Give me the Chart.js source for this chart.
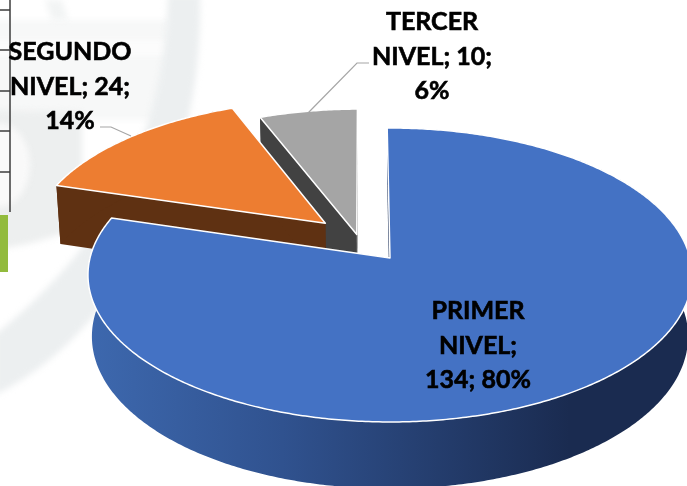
<!DOCTYPE html>
<html>
<head>
<meta charset="utf-8">
<style>html,body{margin:0;padding:0;background:#fff}#w{width:687px;height:486px;position:relative;overflow:hidden}</style>
<script src="https://cdn.jsdelivr.net/npm/chart.js@4"></script>
</head>
<body>
<div id="w"><canvas id="c" width="687" height="486"></canvas></div>
<script>
const categories = ['PRIMER NIVEL', 'SEGUNDO NIVEL', 'TERCER NIVEL'];
const values = [134, 24, 10];
const topColors = ['#4472c4', '#ed7d31', '#a5a5a5'];
const wallColors = ['#1d3158', '#5f3112', '#424242'];
const explode = [40, 34, 5];
const labelLines = [
  ['PRIMER', 'NIVEL;', '{v}; {p}%'],
  ['SEGUNDO', 'NIVEL; {v};', '{p}%'],
  ['TERCER', 'NIVEL; {v};', '{p}%']
];
const labelAnchors = [[478, 311], [70, 52], [432, 22]];
const leaders = [null, [[100,127],[111,127],[131,136]], [[369,63],[357,63],[308,113]]];
const axisTicks = [10, 50, 91, 131, 172];

// 3D view: perspective projection of the pie plane
const view = {cx: 390, cy: 258, b: 300, a: 145, p: -0.1156, q: 0.013, c: 62};
function proj(X, Y, low) {
  const w = 1 + view.p * Y + (low ? view.q : 0);
  return [view.cx + view.b * X / w, view.cy + (view.a * Y + (low ? view.c : 0)) / w];
}
function tracePts(ctx, pts) {
  pts.forEach((q, i) => i ? ctx.lineTo(q[0], q[1]) : ctx.moveTo(q[0], q[1]));
}
const pie3d = {
  id: 'pie3d',
  beforeDraw(chart) {
    const ctx = chart.ctx;
    ctx.save();
    ctx.fillStyle = '#fff'; ctx.fillRect(0, 0, 687, 486);
    // faint watermark behind the chart
    ctx.filter = 'blur(3px)';
    ctx.fillStyle = '#f7f8f8';
    ctx.fillRect(-10, 20, 180, 100);
    ctx.fillStyle = '#fcfcfc';
    ctx.fillRect(-10, 40, 180, 16);
    ctx.fillStyle = '#edefef';
    ctx.beginPath();
    ctx.moveTo(-10, 110); ctx.lineTo(82, 112); ctx.lineTo(82, 225);
    ctx.quadraticCurveTo(40, 245, -10, 250); ctx.closePath(); ctx.fill();
    ctx.fillStyle = '#f9f9f9';
    ctx.beginPath(); ctx.ellipse(0, 165, 30, 42, 0, 0, Math.PI * 2); ctx.fill();
    ctx.fillStyle = '#f2f4f4';
    ctx.beginPath();
    ctx.moveTo(45, 0); ctx.lineTo(62, 0); ctx.lineTo(68, 20); ctx.lineTo(52, 20); ctx.closePath(); ctx.fill();
    ctx.fillStyle = '#eceff0';
    ctx.beginPath();
    ctx.moveTo(168, -5);
    ctx.bezierCurveTo(165, 120, 120, 235, -5, 335);
    ctx.lineTo(-5, 395);
    ctx.bezierCurveTo(110, 340, 205, 180, 200, -5);
    ctx.closePath(); ctx.fill();
    ctx.filter = 'none';
    // neighbouring slide fragments on the left edge
    ctx.strokeStyle = '#3c3c3c'; ctx.lineWidth = 1.5;
    ctx.beginPath(); ctx.moveTo(10, 0); ctx.lineTo(10, 212);
    axisTicks.forEach(t => { ctx.moveTo(0, t); ctx.lineTo(10, t); });
    ctx.stroke();
    ctx.fillStyle = '#92bb3d'; ctx.fillRect(0, 215, 8, 57);
    ctx.restore();
  },
  beforeDatasetsDraw(chart) {
    const ctx = chart.ctx, arcs = chart.getDatasetMeta(0).data;
    const vec = el => {
      const o = el.options.offset, m = (el.startAngle + el.endAngle) / 2, R = el.outerRadius;
      return [Math.cos(m) * o / R, Math.sin(m) * o / R];
    };
    const base = vec(arcs[0]);
    const grad = ctx.createLinearGradient(90, 0, 570, 0);
    grad.addColorStop(0, '#3d68ae');
    grad.addColorStop(0.4, '#30528f');
    grad.addColorStop(1, '#1a2b50');
    const grads = [grad, wallColors[1], wallColors[2]];
    // paint far slices first
    [2, 1, 0].forEach(i => {
      const el = arcs[i], v = vec(el), ox = v[0] - base[0], oy = v[1] - base[1];
      const s = el.startAngle, e = el.endAngle, n = Math.ceil((e - s) / 0.01);
      const rim = (low) => { const r = []; for (let k = 0; k <= n; k++) {
        const t = s + (e - s) * k / n;
        r.push(proj(ox + Math.cos(t), oy + Math.sin(t), low)); } return r; };
      const top = rim(false), bot = rim(true);
      const ap = proj(ox, oy, false), apL = proj(ox, oy, true);
      ctx.save();
      // radial walls
      ctx.fillStyle = i === 0 ? wallColors[0] : grads[i];
      [[top[0], bot[0]], [top[n], bot[n]]].forEach(w => {
        ctx.beginPath(); tracePts(ctx, [ap, w[0], w[1], apL]); ctx.closePath(); ctx.fill();
      });
      // outer wall
      ctx.fillStyle = grads[i];
      ctx.beginPath(); tracePts(ctx, top.concat(bot.slice().reverse())); ctx.closePath(); ctx.fill();
      // top face
      ctx.fillStyle = el.options.backgroundColor;
      ctx.strokeStyle = el.options.borderColor;
      ctx.lineWidth = el.options.borderWidth;
      ctx.lineJoin = 'round';
      ctx.beginPath(); tracePts(ctx, [ap].concat(top)); ctx.closePath(); ctx.fill(); ctx.stroke();
      ctx.restore();
    });
    return false;
  },
  afterDraw(chart) {
    const ctx = chart.ctx, total = values.reduce((a, b) => a + b, 0);
    ctx.save();
    ctx.strokeStyle = '#a6a6a6'; ctx.lineWidth = 1.2;
    leaders.forEach(l => { if (!l) return; ctx.beginPath(); tracePts(ctx, l); ctx.stroke(); });
    ctx.font = 'bold 25px Lato, "Open Sans", sans-serif';
    ctx.fillStyle = '#000'; ctx.strokeStyle = '#000'; ctx.lineWidth = 0.6;
    ctx.textAlign = 'center'; ctx.textBaseline = 'middle';
    labelLines.forEach((lines, i) => {
      const pct = Math.round(values[i] / total * 100);
      lines.forEach((t, j) => {
        const s = t.replace('{v}', values[i]).replace('{p}', pct);
        const y = labelAnchors[i][1] + j * 34.5;
        ctx.fillText(s, labelAnchors[i][0], y);
        ctx.strokeText(s, labelAnchors[i][0], y);
      });
    });
    ctx.restore();
  }
};
new Chart(document.getElementById('c'), {
  type: 'pie',
  data: {
    labels: categories,
    datasets: [{
      data: values,
      backgroundColor: topColors,
      borderColor: '#ffffff',
      borderWidth: 1.5,
      offset: explode
    }]
  },
  options: {
    responsive: false,
    animation: false,
    events: [],
    rotation: -0.6,
    plugins: {legend: {display: false}, tooltip: {enabled: false}, title: {display: false}},
    layout: {padding: 0}
  },
  plugins: [pie3d]
});
</script>
</body>
</html>
